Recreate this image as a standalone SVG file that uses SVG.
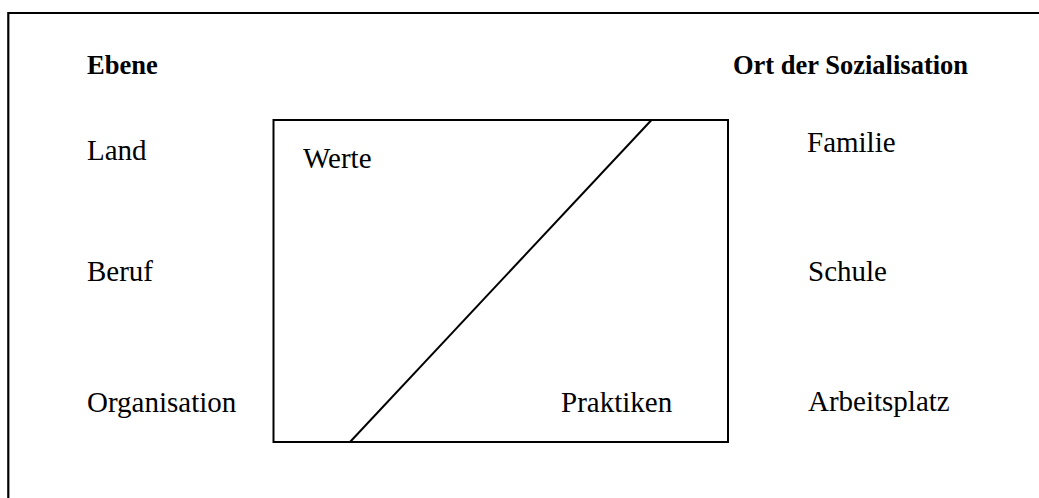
<svg xmlns="http://www.w3.org/2000/svg" width="1039" height="498" viewBox="0 0 1039 498">
<style>
.t{font-family:"Liberation Serif","Times New Roman",serif;font-size:29px;fill:#000}
.b{font-family:"Liberation Serif","Times New Roman",serif;font-size:26.5px;font-weight:bold;fill:#000}
.ln{stroke:#000;fill:none}
</style>
<rect width="1039" height="498" fill="#fff"/>
<path class="ln" stroke-width="2.2" d="M8.3,498 V13 H1039"/>
<g id="headers">
<text class="b" x="87" y="73.5">Ebene</text>
<text class="b" x="733" y="73.5">Ort der Sozialisation</text>
</g>
<g id="ebene">
<text class="t" x="87" y="160">Land</text>
<text class="t" x="87" y="281">Beruf</text>
<text class="t" x="87" y="412">Organisation</text>
</g>
<g id="orte">
<text class="t" x="807" y="152">Familie</text>
<text class="t" x="808" y="281">Schule</text>
<text class="t" x="808" y="411">Arbeitsplatz</text>
</g>
<g id="box">
<rect class="ln" stroke-width="2" x="273.5" y="120" width="454.5" height="322"/>
<text class="t" x="303" y="167.5">Werte</text>
<text class="t" x="561" y="412">Praktiken</text>
</g>
<g id="connectors">
<line class="ln" stroke-width="2" x1="651.5" y1="120" x2="350" y2="442"/>
</g>
</svg>
